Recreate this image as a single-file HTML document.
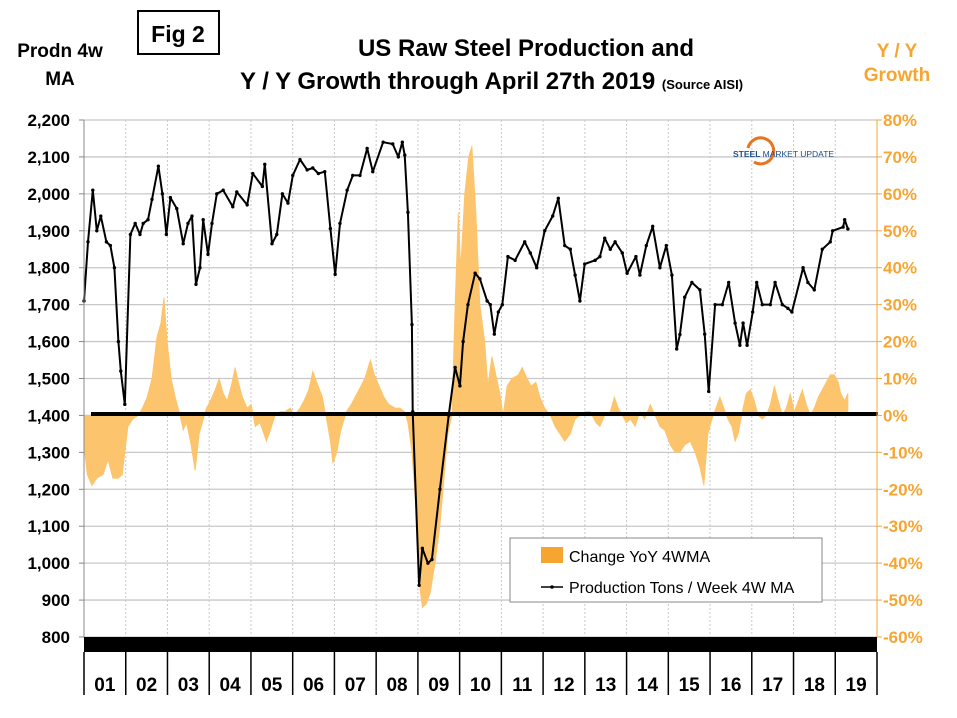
<!DOCTYPE html>
<html><head><meta charset="utf-8"><style>
body{margin:0;background:#fff;}
svg{display:block;font-family:"Liberation Sans",Arial,sans-serif;}
</style></head><body>
<svg id="chart" width="957" height="718" viewBox="0 0 957 718" xmlns="http://www.w3.org/2000/svg">
<rect x="0" y="0" width="957" height="718" fill="#fff"/>
<g>
<rect x="138" y="11" width="81" height="43" fill="#fff" stroke="#000" stroke-width="2"/>
<text x="178" y="42" text-anchor="middle" font-size="23" font-weight="bold">Fig 2</text>
</g>
<text x="526" y="56" text-anchor="middle" font-size="24" font-weight="bold">US Raw Steel Production and</text>
<text x="240" y="89" font-size="24" font-weight="bold">Y / Y Growth through April 27th 2019 <tspan font-size="13">(Source AISI)</tspan></text>
<g font-size="19" font-weight="bold" text-anchor="middle">
<text x="60" y="57">Prodn 4w</text><text x="60" y="85">MA</text></g>
<g font-size="19" font-weight="bold" text-anchor="middle" fill="#f7a531">
<text x="897" y="57">Y / Y</text><text x="897" y="81">Growth</text></g>
<g id="grid"></g>
<g id="bars"></g>
<line x1="91" y1="414" x2="878" y2="414" stroke="#000" stroke-width="4"/>
<g id="line"></g>
<g id="axes"></g>
<g>
<path d="M748,148 A13,13 0 1 1 754,162" fill="none" stroke="#e8741f" stroke-width="3"/>
<text x="733" y="157" font-size="8.5" font-weight="bold" fill="#1f4e8c">STEEL <tspan font-weight="normal">MARKET UPDATE</tspan></text>
</g>
<g>
<rect x="510" y="538" width="312" height="64" fill="#fff" stroke="#888" stroke-width="1"/>
<rect x="541" y="547" width="22" height="16" fill="#f7a531"/>
<text x="569" y="562" font-size="16">Change YoY 4WMA</text>
<line x1="541" y1="587" x2="563" y2="587" stroke="#000" stroke-width="1.5"/>
<circle cx="552" cy="587" r="1.8" fill="#000"/>
<text x="569" y="593" font-size="16">Production Tons / Week 4W MA</text>
</g>
</svg>
<script>
const prodWeeks=[0,5,11,16,21,28,33,38,43,46,51,58,64,70,74,80,85,93,98,103,108,116,124,130,135,140,145,149,155,160,166,174,186,191,204,211,223,226,235,241,248,255,261,270,279,286,293,301,308,314,320,329,336,345,354,361,374,386,393,398,401,405,410,411,419,423,430,435,445,456,464,470,474,480,489,495,504,508,513,518,523,530,539,551,558,566,576,586,593,601,608,614,620,626,639,645,651,658,664,673,679,690,695,703,711,720,728,735,741,745,751,760,770,776,781,789,798,806,814,820,824,829,836,841,848,858,864,873,880,885,899,905,913,923,933,936,949,951,955];
const prodValues=[1710,1870,2010,1900,1940,1870,1860,1800,1600,1520,1430,1890,1920,1890,1920,1930,1985,2075,2000,1890,1990,1960,1865,1920,1940,1755,1800,1930,1836,1920,2000,2010,1965,2005,1970,2055,2020,2080,1865,1890,2000,1975,2050,2093,2065,2070,2055,2060,1906,1782,1920,2010,2050,2050,2123,2060,2140,2135,2100,2140,2105,1950,1646,1410,940,1040,1000,1010,1200,1400,1530,1480,1600,1700,1785,1770,1710,1700,1620,1680,1700,1830,1820,1870,1840,1800,1900,1940,1988,1860,1850,1780,1710,1810,1820,1830,1880,1850,1870,1840,1785,1830,1780,1860,1912,1800,1860,1780,1580,1619,1720,1760,1740,1620,1465,1700,1700,1760,1650,1590,1650,1590,1680,1760,1700,1700,1760,1700,1690,1680,1800,1760,1740,1850,1870,1900,1910,1930,1905];
const yoyWeeks=[0,4,10,16,24,30,36,43,48,51,55,61,68,73,79,85,91,96,100,104,109,114,119,124,128,133,139,144,148,153,158,164,169,174,179,184,189,193,198,204,209,214,220,228,233,239,245,251,258,263,270,275,281,286,291,298,304,308,311,316,321,328,334,351,358,363,369,375,381,389,395,401,405,410,415,419,423,428,433,439,445,451,455,460,464,468,471,476,481,485,490,495,501,505,510,514,520,524,529,535,543,548,554,559,565,570,576,583,589,595,601,608,614,620,626,633,640,645,651,658,663,668,673,678,683,689,695,701,708,714,720,726,733,739,745,751,758,764,770,775,780,785,790,795,800,805,810,814,818,823,828,833,838,843,848,853,858,863,868,873,878,883,888,893,898,903,908,913,918,923,928,933,938,943,946,951,955];
const yoyValues=[-8,-16,-19,-17,-16,-12,-17,-17,-16,-10,-3,-1,0,2,5,10,21,25,32,20,10,5,1,-4,-2,-7,-15,-5,-2,2,4,7,10,6,4,8,13,9,5,2,3,-3,-2,-7,-4,0,1,1,2,0,2,4,7,12,9,5,-2,-7,-13,-10,-4,1,3,10,15,11,8,5,3,2,2,1,-2,-10,-25,-45,-52,-51,-48,-40,-30,-15,-5,0,30,55,40,60,70,73,55,30,20,8,16,12,6,0,8,10,11,13,10,8,9,5,2,0,-3,-5,-7,-5,-1,0,1,1,-2,-3,0,1,5,2,0,-2,-1,-3,1,-1,3,0,-3,-4,-8,-10,-10,-8,-7,-10,-14,-19,-5,-1,2,5,2,-1,-3,-7,-5,1,6,7,4,0,-1,0,3,8,4,0,2,6,1,4,7,3,0,2,5,7,9,11,11,9,6,4,6];
const leftTicks=[800,900,1000,1100,1200,1300,1400,1500,1600,1700,1800,1900,2000,2100,2200];
const rightTicks=[-60,-50,-40,-30,-20,-10,0,10,20,30,40,50,60,70,80];
const yearLabels=["01","02","03","04","05","06","07","08","09","10","11","12","13","14","15","16","17","18","19"];

const NS="http://www.w3.org/2000/svg";
const X0=84,X1=877,YT=120,YB=637;
const WPY=52.18,YW=(X1-X0)/19;
function xOf(w){return X0+w/WPY*YW;}
function yL(v){return YB-(v-800)/1400*(YB-YT);}
function yR(p){return YB-(p+60)/140*(YB-YT);}
function mk(tag,attrs,parent){const e=document.createElementNS(NS,tag);for(const k in attrs)e.setAttribute(k,attrs[k]);parent.appendChild(e);return e;}
const grid=document.getElementById('grid'),bars=document.getElementById('bars'),line=document.getElementById('line'),axes=document.getElementById('axes');

leftTicks.forEach(v=>{
  const y=yL(v);
  const g=mk('line',{x1:X0,y1:y,x2:X1,y2:y,stroke:'#c8c8c8','stroke-width':1.3},grid);
  
  
  const t=mk('text',{x:70,y:y+6,'text-anchor':'end','font-size':17,'font-weight':'bold'},axes);
  t.textContent=v.toLocaleString('en-US');
  
  
  mk('line',{x1:X0-5,y1:y,x2:X0,y2:y,stroke:'#888'},axes);
  mk('line',{x1:X1,y1:y,x2:X1+5,y2:y,stroke:'#f7a531'},axes);
});
rightTicks.forEach(p=>{
  const t=mk('text',{x:883,y:yR(p)+6,'font-size':17,'font-weight':'bold',fill:'#f7a531'},axes);
  t.textContent=p+'%';
  
  
});
yearLabels.forEach((lab,i)=>{
  const xb=X0+i*YW;
  if(i>0){const d=mk('line',{x1:xb,y1:YT,x2:xb,y2:YB,stroke:'#c8c8c8','stroke-dasharray':'2,2'},grid);
  
  }
  mk('line',{x1:xb,y1:652,x2:xb,y2:695,stroke:'#000','stroke-width':1.5},axes);
  const t=mk('text',{x:xb+YW/2,y:691,'text-anchor':'middle','font-size':19,'font-weight':'bold'},axes);
  t.textContent=lab;
  
  
});
mk('line',{x1:X1,y1:652,x2:X1,y2:695,stroke:'#000','stroke-width':1.5},axes);
mk('line',{x1:X0,y1:YT,x2:X0,y2:YB,stroke:'#888'},axes);
mk('line',{x1:X1,y1:YT,x2:X1,y2:YB,stroke:'#f7a531'},axes);
const band=mk('rect',{x:X0,y:YB,width:X1-X0,height:15,fill:'#000'},axes);



// YoY area drawn from data
let d='M'+xOf(yoyWeeks[0]).toFixed(1)+','+yR(0).toFixed(1);
yoyWeeks.forEach((w,i)=>{d+=' L'+xOf(w).toFixed(1)+','+yR(yoyValues[i]).toFixed(1);});
d+=' L'+xOf(yoyWeeks[yoyWeeks.length-1]).toFixed(1)+','+yR(0).toFixed(1)+' Z';
const area=mk('path',{d:d,fill:'#fcc46c',stroke:'#fcc46c','stroke-width':0.8},bars);



const pts=prodWeeks.map((w,i)=>xOf(w).toFixed(1)+','+yL(prodValues[i]).toFixed(1)).join(' ');
const pl=mk('polyline',{points:pts,fill:'none',stroke:'#000','stroke-width':2,'stroke-linejoin':'round'},line);


prodWeeks.forEach((w,i)=>{
  const c=mk('circle',{cx:xOf(w),cy:yL(prodValues[i]),r:1.7,fill:'#000'},line);
  
  
});
</script>
</body></html>
